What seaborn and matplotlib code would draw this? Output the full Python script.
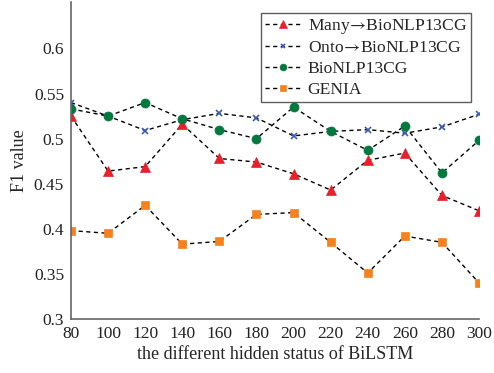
import matplotlib
matplotlib.use('Agg')
import matplotlib.pyplot as plt
import pandas as pd
import seaborn as sns

# hidden sizes and F1 scores
hidden = [80, 100, 120, 140, 160, 180, 200, 220, 240, 260, 280, 300]
many = [0.525, 0.464, 0.469, 0.516, 0.478, 0.474, 0.461, 0.443, 0.476, 0.484, 0.437, 0.420]
onto = [0.540, 0.525, 0.509, 0.521, 0.528, 0.523, 0.503, 0.508, 0.510, 0.506, 0.513, 0.527]
bionlp = [0.533, 0.525, 0.540, 0.522, 0.510, 0.500, 0.535, 0.508, 0.487, 0.514, 0.462, 0.498]
genia = [0.398, 0.395, 0.426, 0.383, 0.386, 0.416, 0.418, 0.385, 0.351, 0.392, 0.385, 0.340]
labels = ['Many$\\!\\rightarrow\\!$BioNLP13CG', 'Onto$\\!\\rightarrow\\!$BioNLP13CG',
          'BioNLP13CG', 'GENIA']

sns.set_style('white')
plt.rcParams['font.family'] = ['Liberation Serif', 'DejaVu Serif']
plt.rcParams['mathtext.fontset'] = 'stix'

series = [
    (many, '^', '#e8202a', 7),
    (onto, 'x', '#3b5bb5', 4),
    (bionlp, 'o', '#00793e', 6.5),
    (genia, 's', '#f5821f', 5.5),
]

fig = plt.figure(figsize=(4.94, 3.73), dpi=100)
ax = fig.add_axes([0.1437, 0.1448, 0.826, 0.851])

for (vals, mk, col, ms), lab in zip(series, labels):
    df = pd.DataFrame({'hidden': hidden, 'f1': vals})
    sns.lineplot(data=df, x='hidden', y='f1', ax=ax, color='black', linestyle=(0, (3, 2.5)),
                 linewidth=1.0, marker=mk, markersize=ms, markerfacecolor=col,
                 markeredgecolor=col, markeredgewidth=1.2 if mk == 'x' else 0.5, label=lab)

ax.set_xlim(80, 300)
ax.set_ylim(0.3, 0.652)
ax.set_xticks(hidden)
ax.set_yticks([0.3, 0.35, 0.4, 0.45, 0.5, 0.55, 0.6])
ax.set_yticklabels(['0.3', '0.35', '0.4', '0.45', '0.5', '0.55', '0.6'])
ax.set_xlabel('the different hidden status of BiLSTM', fontsize=13, labelpad=3)
ax.set_ylabel('F1 value', fontsize=13, labelpad=4)
ax.tick_params(direction='in', length=4, width=1, color='#555555', labelsize=12.5,
               labelcolor='#222222', pad=5)
for s in ['top', 'right']:
    ax.spines[s].set_visible(False)
for s in ['left', 'bottom']:
    ax.spines[s].set_color('#666666')
    ax.spines[s].set_linewidth(1.2)

leg = ax.legend(loc='upper left', bbox_to_anchor=(261 / 494, 1 - 13 / 373),
                bbox_transform=fig.transFigure, fontsize=12.6, frameon=True, fancybox=False,
                borderpad=0.22, labelspacing=0.25, handlelength=2.1, handletextpad=0.35,
                borderaxespad=0, markerscale=0.75)
leg.get_frame().set_edgecolor('#333333')
leg.get_frame().set_linewidth(1.0)

fig.savefig('out.png', dpi=100)
